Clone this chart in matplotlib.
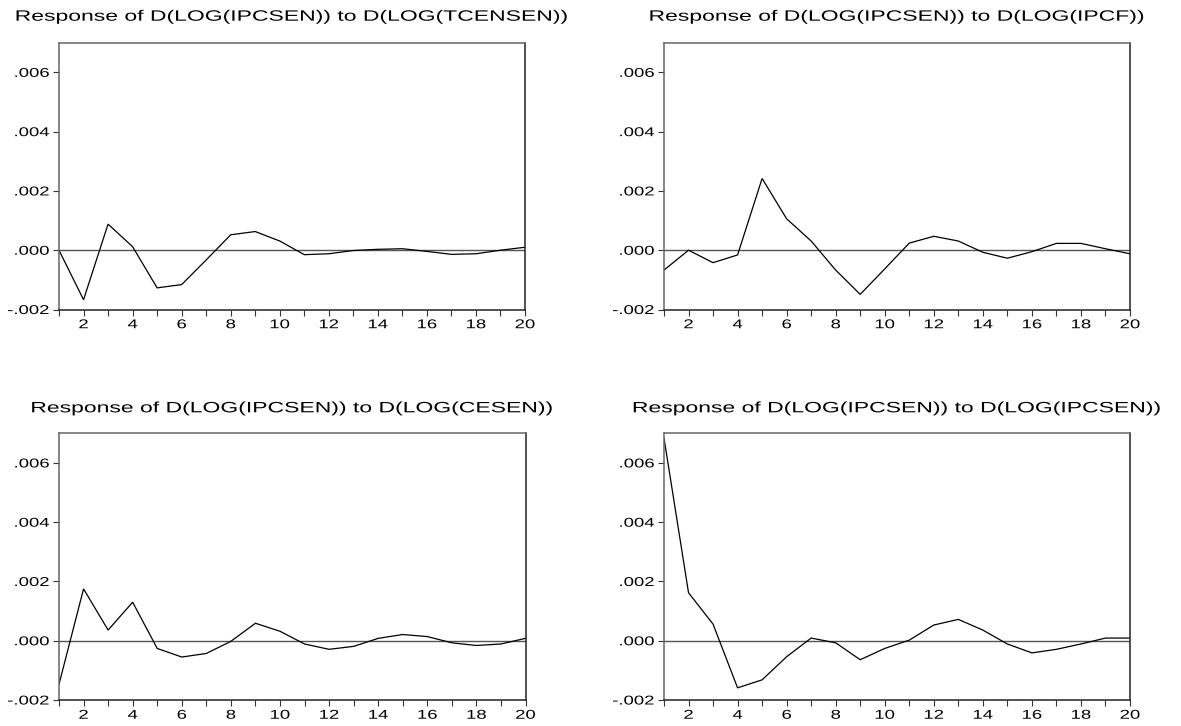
import matplotlib
matplotlib.use("Agg")
import matplotlib.pyplot as plt
from matplotlib import patheffects
from matplotlib.transforms import Affine2D
from matplotlib.ticker import FixedLocator, FuncFormatter, NullFormatter

# Impulse responses of D(LOG(IPCSEN)) over 20 periods
periods = list(range(1, 21))

resp_tcensen = [0.00000, -0.00167, 0.00088, 0.00012, -0.00127, -0.00116, -0.00033,
                0.00052, 0.00063, 0.00031, -0.00015, -0.00012, -0.00001, 0.00003,
                0.00005, -0.00004, -0.00014, -0.00012, 0.00000, 0.00010]

resp_ipcf = [-0.00067, 0.00000, -0.00042, -0.00016, 0.00242, 0.00106, 0.00031,
             -0.00067, -0.00149, -0.00063, 0.00024, 0.00047, 0.00031, -0.00007,
             -0.00027, -0.00005, 0.00023, 0.00023, 0.00005, -0.00012]

resp_cesen = [-0.00147, 0.00175, 0.00036, 0.00130, -0.00026, -0.00055, -0.00043,
              -0.00002, 0.00059, 0.00032, -0.00011, -0.00029, -0.00019, 0.00008,
              0.00021, 0.00014, -0.00007, -0.00016, -0.00011, 0.00008]

resp_ipcsen = [0.00684, 0.00162, 0.00056, -0.00159, -0.00132, -0.00054, 0.00009,
               -0.00007, -0.00064, -0.00026, 0.00002, 0.00053, 0.00072, 0.00036,
               -0.00011, -0.00041, -0.00029, -0.00011, 0.00009, 0.00009]

titles = [
    "Response of D(LOG(IPCSEN)) to D(LOG(TCENSEN))",
    "Response of D(LOG(IPCSEN)) to D(LOG(IPCF))",
    "Response of D(LOG(IPCSEN)) to D(LOG(CESEN))",
    "Response of D(LOG(IPCSEN)) to D(LOG(IPCSEN))",
]
series = [resp_tcensen, resp_ipcf, resp_cesen, resp_ipcsen]
y_ticks = [-0.002, 0.000, 0.002, 0.004, 0.006]

W, H, DPI = 1181, 726, 100
FONT = "Liberation Sans"


class WideText(patheffects.AbstractPathEffect):
    """Draw text glyphs widened horizontally about an anchor edge."""

    def __init__(self, sx, anchor="center"):
        super().__init__()
        self.sx = sx
        self.anchor = anchor

    def draw_path(self, renderer, gc, tpath, affine, rgbFace=None):
        bb = tpath.get_extents(affine)
        if self.anchor == "right":
            x0 = bb.x1
        elif self.anchor == "left":
            x0 = bb.x0
        else:
            x0 = 0.5 * (bb.x0 + bb.x1)
        widen = Affine2D().translate(-x0, 0).scale(self.sx, 1).translate(x0, 0)
        renderer.draw_path(gc, tpath, affine + widen, rgbFace)


def rect(left, right, top, bottom):
    return [left / W, 1 - bottom / H, (right - left) / W, (bottom - top) / H]


def fmt_y(v, _pos):
    s = f"{v:.3f}"
    return s.replace("0.", ".", 1)


fig = plt.figure(figsize=(W / DPI, H / DPI), dpi=DPI)
fig.patch.set_facecolor("white")

boxes = [
    (59, 525, 42.7, 309.5),
    (664, 1130, 42.7, 309.5),
    (59, 525.5, 433.3, 700),
    (664, 1130, 433.3, 700),
]
title_base = [20.7, 20.7, 412.3, 412.3]

for box, tb, title, vals in zip(boxes, title_base, titles, series):
    ax = fig.add_axes(rect(*box))
    ax.plot(periods, vals, color="black", lw=0.9, solid_joinstyle="miter")
    ax.axhline(0.0, color="#555555", lw=1.0, zorder=1)
    ax.set_xlim(1, 20)
    ax.set_ylim(-0.002, 0.007)

    ax.xaxis.set_major_locator(FixedLocator(periods))
    ax.xaxis.set_major_formatter(
        FuncFormatter(lambda v, p: f"{int(round(v))}" if int(round(v)) % 2 == 0 else ""))
    ax.yaxis.set_major_locator(FixedLocator(y_ticks))
    ax.yaxis.set_major_formatter(FuncFormatter(fmt_y))

    ax.tick_params(axis="x", direction="out", length=4, width=0.8, color="#333333",
                   pad=3, labelsize=9.2, labelcolor="black")
    ax.tick_params(axis="y", direction="out", length=4, width=0.8, color="#333333",
                   pad=3, labelsize=9.2, labelcolor="black")
    for lab in ax.get_xticklabels():
        lab.set_fontfamily(FONT)
        lab.set_path_effects([WideText(1.45, "center")])
    for lab in ax.get_yticklabels():
        lab.set_fontfamily(FONT)
        lab.set_path_effects([WideText(1.45, "right")])

    for side in ("left", "top"):
        ax.spines[side].set_color("#666666")
        ax.spines[side].set_linewidth(1.1)
    for side in ("right", "bottom"):
        ax.spines[side].set_color("#222222")
        ax.spines[side].set_linewidth(1.1)

    cx = 0.5 * (box[0] + box[1])
    t = fig.text(cx / W, 1 - tb / H, title, ha="center", va="baseline",
                 fontsize=10.8, family=FONT, color="black")
    t.set_path_effects([WideText(1.53, "center")])

fig.savefig("out.png", dpi=DPI, facecolor="white")
